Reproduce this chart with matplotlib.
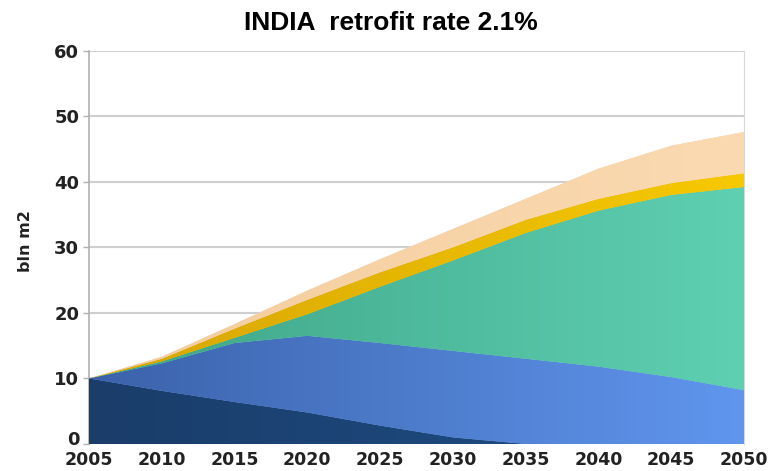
"""
India building floor area by vintage, retrofit rate 2.1%
"""

import matplotlib.pyplot as plt
import matplotlib.transforms as mtransforms
import numpy as np
from matplotlib.colors import LinearSegmentedColormap

plt.rcParams.update(
    {
        "font.family": "DejaVu Sans",
        "font.weight": "bold",
        "figure.dpi": 100,
    }
)

# left -> right shades of each band (the original has a soft horizontal gradient)
DARK = ("#1a3d6a", "#1f5088")
BLUE = ("#3b62aa", "#6096ee")
TEAL = ("#3ea386", "#5fd0b2")
YELLOW = ("#d6a600", "#f6c900")
PEACH = ("#f3cc9c", "#fbdab2")

years = [2005, 2010, 2015, 2020, 2025, 2030, 2035, 2040, 2045, 2050]
existing = [10, 8.1, 6.4, 4.8, 2.8, 1.0, 0, 0, 0, 0]
existing_2 = [0, 4.2, 9.0, 11.7, 12.6, 13.2, 13.0, 11.8, 10.2, 8.2]
new_build = [0, 0.3, 0.8, 3.3, 8.6, 13.8, 19.2, 23.8, 27.8, 31.0]
retrofit = [0, 0.4, 1.4, 2.2, 2.2, 2.0, 2.0, 1.8, 1.8, 2.1]
advanced = [0, 0.3, 0.7, 1.4, 2.0, 2.8, 3.2, 4.6, 5.7, 6.3]
colors = [DARK, BLUE, TEAL, YELLOW, PEACH]

fig = plt.figure(figsize=(7.75, 4.71))
ax = fig.add_axes([0.1148, 0.0573, 0.8452, 0.8351])

polys = ax.stackplot(
    years,
    existing,
    existing_2,
    new_build,
    retrofit,
    advanced,
    colors=[c[1] for c in colors],
    linewidth=0,
    zorder=2,
)

# paint a horizontal gradient inside every band
grad = np.linspace(0, 1, 256).reshape(1, -1)
for poly, (c0, c1) in zip(polys, colors):
    cmap = LinearSegmentedColormap.from_list("band", [c0, c1])
    im = ax.imshow(grad, cmap=cmap, aspect="auto", extent=(2005, 2050, 0, 60),
                   origin="lower", zorder=3, interpolation="bilinear")
    im.set_clip_path(poly.get_paths()[0], transform=ax.transData)

ax.set_xlim(2005, 2050)
ax.set_ylim(0, 60)
ax.set_xticks(np.arange(2005, 2051, 5))
ax.set_yticks(np.arange(0, 61, 10))
ax.tick_params(axis="x", labelsize=12.5, colors="#222222", length=0, pad=5)
ax.tick_params(axis="y", labelsize=13, labelcolor="#222222", color="#b0b0b0",
               length=4, width=1, pad=3)
for lbl in ax.get_xticklabels() + ax.get_yticklabels():
    lbl.set_fontweight("bold")

# lift the "0" a touch so it sits clear of the 2005 label
zero_lbl = ax.yaxis.get_major_ticks()[0].label1
zero_lbl.set_transform(zero_lbl.get_transform()
                       + mtransforms.ScaledTranslation(0, 4 / 72, fig.dpi_scale_trans))

ax.grid(axis="y", color="#cfcfcf", linewidth=1.5, zorder=1)
ax.set_axisbelow(True)
for side in ["top", "bottom"]:
    ax.spines[side].set_visible(False)
ax.spines["left"].set_color("#b0b0b0")
ax.spines["right"].set_color("#d8d8d8")
ax.spines["left"].set_linewidth(1.2)

ax.set_ylabel("bln m2", fontsize=11.5, fontweight="bold", color="#222222")
ax.yaxis.set_label_coords(-0.085, 0.517)
fig.text(0.505, 0.951, "INDIA  retrofit rate 2.1%", ha="center", va="center",
         fontsize=19, fontweight="bold", family="Liberation Sans")

plt.savefig("out.png", dpi=100, facecolor="white")
plt.close()
